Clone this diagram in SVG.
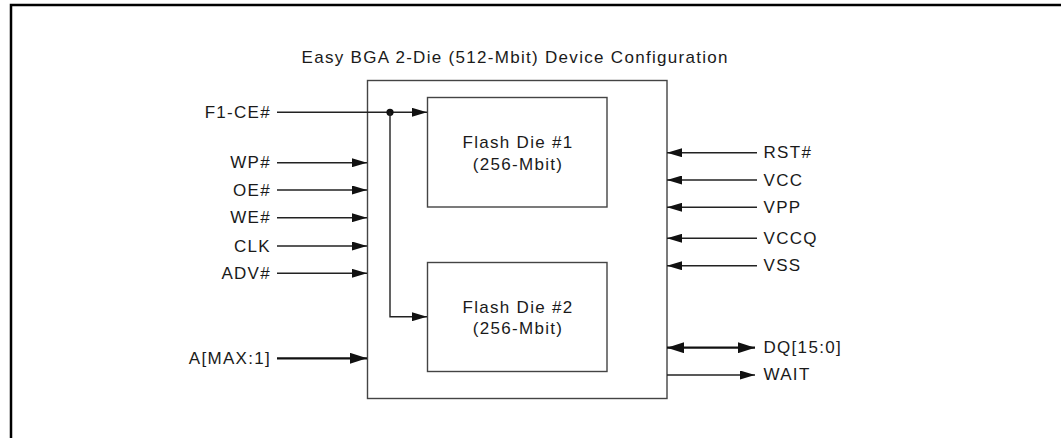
<svg xmlns="http://www.w3.org/2000/svg" width="1061" height="438" viewBox="0 0 1061 438">
<style>
text{font-family:"Liberation Sans",Arial,sans-serif;font-size:17px;letter-spacing:1.3px;fill:#1a1a1a}
.r{text-anchor:end}
.c{text-anchor:middle}
.box{fill:none;stroke:#444;stroke-width:1.4}
.w{fill:none;stroke:#222;stroke-width:1.4}
.t{fill:none;stroke:#111;stroke-width:2.2}
</style>
<defs>
<marker id="ah" viewBox="0 0 15 9" refX="15" refY="4.5" markerWidth="15" markerHeight="9" markerUnits="userSpaceOnUse" orient="auto-start-reverse"><path d="M0,0L15,4.5L0,9Z" fill="#111"/></marker>
<marker id="ahb" viewBox="0 0 17 11" refX="17" refY="5.5" markerWidth="17" markerHeight="11" markerUnits="userSpaceOnUse" orient="auto-start-reverse"><path d="M0,0L17,5.5L0,11Z" fill="#111"/></marker>
</defs>
<path d="M11,438V5H1061" fill="none" stroke="#000" stroke-width="2.5"/>
<g id="device">
<rect class="box" x="367.5" y="80.5" width="299.5" height="318"/>
<text x="301.5" y="62.5">Easy BGA 2-Die (512-Mbit) Device Configuration</text>
</g>
<g id="die1">
<rect class="box" x="427.5" y="97.5" width="179.5" height="109.5"/>
<text class="c" x="518" y="148">Flash Die #1</text>
<text class="c" x="518" y="170">(256-Mbit)</text>
</g>
<g id="die2">
<rect class="box" x="427.5" y="262.5" width="179.5" height="109"/>
<text class="c" x="518" y="312.5">Flash Die #2</text>
<text class="c" x="518" y="334">(256-Mbit)</text>
</g>
<g id="labels">
<text class="r" x="271" y="117.5">F1-CE#</text>
<text class="r" x="271" y="168">WP#</text>
<text class="r" x="271" y="195.5">OE#</text>
<text class="r" x="271" y="223">WE#</text>
<text class="r" x="271" y="251.5">CLK</text>
<text class="r" x="271" y="278.7">ADV#</text>
<text class="r" x="271" y="364">A[MAX:1]</text>
<text x="763.5" y="158">RST#</text>
<text x="763.5" y="185.5">VCC</text>
<text x="763.5" y="212.7">VPP</text>
<text x="763.5" y="243.7">VCCQ</text>
<text x="763.5" y="271">VSS</text>
<text x="763.5" y="353">DQ[15:0]</text>
<text x="763.5" y="380.3">WAIT</text>
</g>
<g id="connectors">
<path class="w" d="M277,112.3H427" marker-end="url(#ah)"/>
<circle cx="390" cy="112.3" r="3.6" fill="#111"/>
<path class="w" d="M390,112.3V316.7H427" marker-end="url(#ah)"/>
<path class="w" d="M277,162.7H367" marker-end="url(#ah)"/>
<path class="w" d="M277,190H367" marker-end="url(#ah)"/>
<path class="w" d="M277,217.7H367" marker-end="url(#ah)"/>
<path class="w" d="M277,246H367" marker-end="url(#ah)"/>
<path class="w" d="M277,273.3H367" marker-end="url(#ah)"/>
<path class="t" d="M277,358.3H367" marker-end="url(#ahb)"/>
<path class="w" d="M757,152.7H667" marker-end="url(#ah)"/>
<path class="w" d="M757,180H667" marker-end="url(#ah)"/>
<path class="w" d="M757,207.3H667" marker-end="url(#ah)"/>
<path class="w" d="M757,238.3H667" marker-end="url(#ah)"/>
<path class="w" d="M757,265.7H667" marker-end="url(#ah)"/>
<path class="t" d="M667,347.7H755" marker-start="url(#ahb)" marker-end="url(#ahb)"/>
<path class="w" d="M667,375H755" marker-end="url(#ah)"/>
</g>
</svg>
